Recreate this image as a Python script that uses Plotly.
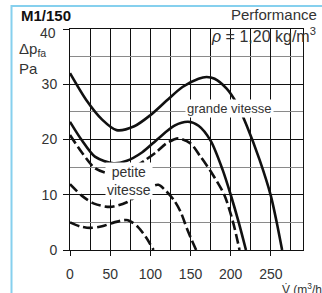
import plotly.graph_objects as go

# ---- data (V in m3/h, dp in Pa) ----
gv_high_x = [0, 20, 40, 58, 80, 100, 120, 140, 160, 170, 180, 195, 208, 220, 236, 250, 257, 264]
gv_high_y = [32, 27.2, 23.6, 21.7, 22.4, 24.4, 27.0, 29.5, 31.0, 31.3, 31.0, 29.2, 26.4, 22.5, 16.3, 9.8, 5.2, 0]

gv_mid_x = [0, 15, 31, 54, 70, 90, 110, 130, 147, 160, 175, 190, 200, 210, 219]
gv_mid_y = [23.2, 19.8, 16.9, 15.7, 16.1, 17.7, 20.2, 22.5, 23.2, 22.5, 19.8, 14.5, 10, 5, 0]

pv_high_x = [0, 15, 31, 48, 65, 80, 95, 108, 120, 135, 150, 162, 177, 192, 203, 211]
pv_high_y = [20.8, 17.6, 14.8, 13.9, 14.1, 15.0, 16.4, 17.8, 19.3, 20.2, 19.3, 17.0, 13.8, 10, 5, 0]

pv_mid_x = [0, 15, 30, 50, 70, 85, 100, 110, 120, 130, 138, 146, 157]
pv_mid_y = [11.9, 9.8, 8.4, 7.8, 8.6, 10.0, 11.4, 11.8, 10.6, 8.9, 6.8, 3.7, 0]

pv_low_x = [0, 12, 25, 40, 55, 72, 85, 95, 104]
pv_low_y = [5.0, 4.3, 4.0, 4.3, 5.0, 5.4, 4.1, 2.2, 0]

x_ticks = [0, 50, 100, 150, 200, 250]
y_ticks = [0, 10, 20, 30, 40]
y_ticktext = ["0", "10", "20", "30", ""]   # the "40" label is placed slightly lower, below

# ---- layout geometry ----
W, H = 322, 293
L, R, T, B = 70, 19, 29, 43
X_MAX, Y_MAX = 290, 40


def pxx(p):
    return (p - L) / (W - L - R)


def pxy(p):
    return (H - B - p) / (H - T - B)


FONT = "Liberation Sans, Arial, Helvetica, sans-serif"
NARROW = "Liberation Sans Narrow, Arial Narrow, Liberation Sans, sans-serif"
TXT = "#333333"

fig = go.Figure()
series = [
    (gv_high_x, gv_high_y, "solid"),
    (gv_mid_x, gv_mid_y, "solid"),
    (pv_high_x, pv_high_y, "10px,4px"),
    (pv_mid_x, pv_mid_y, "10px,4px"),
    (pv_low_x, pv_low_y, "10px,4px"),
]
for xs, ys, dash in series:
    fig.add_trace(go.Scatter(
        x=xs, y=ys, mode="lines",
        line=dict(color="#111111", width=2.6, dash=dash, shape="spline", smoothing=0.8),
        showlegend=False, hoverinfo="skip", cliponaxis=True,
    ))

fig.update_xaxes(
    range=[0, X_MAX], tickvals=x_ticks, ticktext=[str(v) for v in x_ticks],
    showgrid=True, gridcolor="#111111", gridwidth=1,
    minor=dict(dtick=25, tick0=0, showgrid=True, gridcolor="#111111", gridwidth=1),
    ticks="outside", ticklen=5, tickcolor="#111111", tickwidth=1,
    showline=True, mirror=True, linecolor="#111111", linewidth=1,
    zeroline=False, tickfont=dict(family=FONT, size=14, color=TXT),
    ticklabelstandoff=6, fixedrange=True,
)
fig.update_yaxes(
    range=[0, Y_MAX], tickvals=y_ticks, ticktext=y_ticktext,
    showgrid=True, gridcolor="#111111", gridwidth=1,
    minor=dict(dtick=5, tick0=0, showgrid=True, gridcolor="#8a8a8a", gridwidth=1),
    ticks="outside", ticklen=6, tickcolor="#111111", tickwidth=1,
    showline=True, mirror=True, linecolor="#111111", linewidth=1,
    zeroline=False, tickfont=dict(family=FONT, size=14, color=TXT),
    ticklabelstandoff=3, fixedrange=True,
)

annotations = [
    dict(text="<b>M1/150</b>", x=pxx(19), y=pxy(16), xanchor="left", yanchor="middle",
         font=dict(family=FONT, size=15, color="#111111")),
    dict(text=str(y_ticks[-1]), x=pxx(58), y=pxy(33), xanchor="right", yanchor="middle",
         font=dict(family=FONT, size=14, color=TXT)),
    dict(text="Δp<sub>fa</sub><br>Pa", x=pxx(17), y=pxy(38), xanchor="left", yanchor="top",
         align="left", font=dict(family=FONT, size=15, color=TXT)),
    dict(text="Performance", x=pxx(319), y=pxy(14), xanchor="right", yanchor="middle",
         font=dict(family=FONT, size=15, color=TXT)),
    dict(text="<i>ρ</i> = 1,20 kg/m<sup>3</sup>", x=pxx(318), y=pxy(35), xanchor="right",
         yanchor="middle", font=dict(family=FONT, size=16, color=TXT)),
    dict(text="V̇ (m<sup>3</sup>/h)", x=pxx(280), y=pxy(289), xanchor="left", yanchor="middle",
         font=dict(family=FONT, size=12, color=TXT)),
]
for a in annotations:
    a.update(xref="paper", yref="paper", showarrow=False)

annotations += [
    dict(text="grande vitesse", x=199, y=25.7, xref="x", yref="y", showarrow=False,
         bgcolor="white", borderpad=1, font=dict(family=NARROW, size=13, color=TXT)),
    dict(text="petite<br>vitesse", x=74, y=12.4, xref="x", yref="y", showarrow=False,
         bgcolor="white", borderpad=1, font=dict(family=NARROW, size=14, color=TXT)),
]

fig.update_layout(
    width=W, height=H, margin=dict(l=L, r=R, t=T, b=B, autoexpand=False),
    paper_bgcolor="white", plot_bgcolor="white",
    annotations=annotations,
    shapes=[dict(type="rect", xref="paper", yref="paper",
                 x0=pxx(11.5), x1=pxx(400), y0=pxy(400), y1=pxy(6),
                 line=dict(color="#86d0ee", width=2), fillcolor="rgba(0,0,0,0)", layer="below")],
)

fig.write_html("out.html", config={"displayModeBar": False},
               post_script="document.body.style.margin='0';document.body.style.padding='0';")
